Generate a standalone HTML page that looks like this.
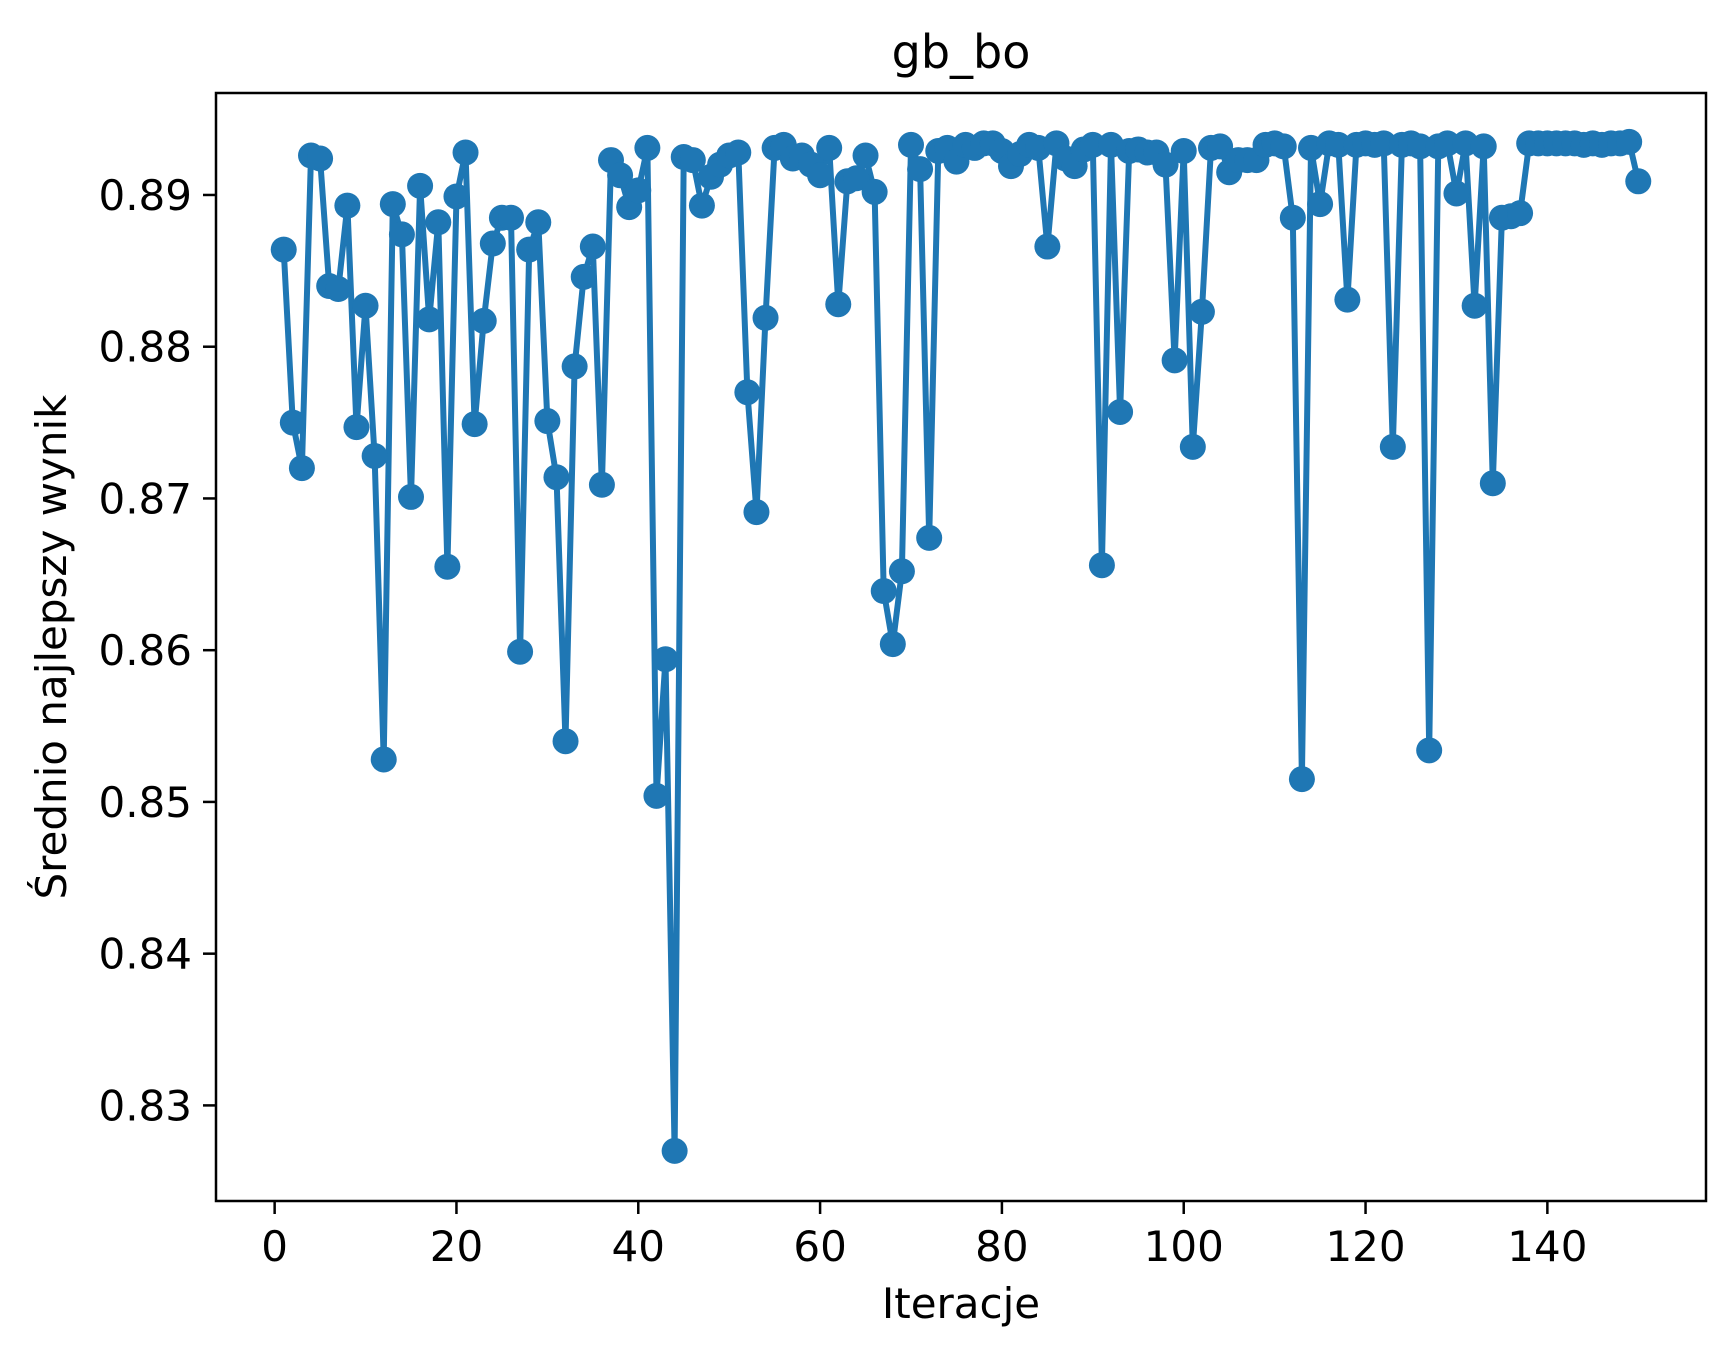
<!DOCTYPE html>
<html><head><meta charset="utf-8"><style>
html,body{margin:0;padding:0;background:#fff;}
svg{display:block;font-family:"DejaVu Sans","Liberation Sans",sans-serif;}
</style></head><body>
<svg id="chart" width="1733" height="1357" viewBox="0 0 1733 1357" xmlns="http://www.w3.org/2000/svg">
<rect width="1733" height="1357" fill="#fff"/>
<text x="961" y="68" font-size="46" text-anchor="middle">gb_bo</text>
<text x="961" y="1318" font-size="42" text-anchor="middle">Iteracje</text>
<text transform="translate(66,647) rotate(-90)" font-size="42" text-anchor="middle">Średnio najlepszy wynik</text>
<g id="grid"></g>
<g id="series"></g>
<rect x="216" y="93" width="1490" height="1108" fill="none" stroke="#000" stroke-width="2.5"/>
</svg>
<script>
const iterations = Array.from({length:150},(_,i)=>i+1);
const scores = [0.8864,0.8750,0.8720,0.8926,0.8924,0.8840,0.8838,0.8893,0.8747,0.8827,
0.8728,0.8528,0.8894,0.8874,0.8701,0.8906,0.8818,0.8882,0.8655,0.8899,
0.8928,0.8749,0.8817,0.8868,0.8885,0.8885,0.8599,0.8864,0.8882,0.8751,
0.8714,0.8540,0.8787,0.8846,0.8866,0.8709,0.8923,0.8913,0.8892,0.8903,
0.8931,0.8504,0.8594,0.8270,0.8925,0.8923,0.8893,0.8912,0.8920,0.8926,
0.8928,0.8770,0.8691,0.8819,0.8931,0.8933,0.8924,0.8926,0.8920,0.8913,
0.8931,0.8828,0.8909,0.8911,0.8926,0.8902,0.8639,0.8604,0.8652,0.8933,
0.8917,0.8674,0.8929,0.8931,0.8922,0.8933,0.8931,0.8934,0.8934,0.8929,
0.8919,0.8927,0.8933,0.8931,0.8866,0.8934,0.8924,0.8919,0.8930,0.8933,
0.8656,0.8933,0.8757,0.8929,0.8930,0.8928,0.8928,0.8920,0.8791,0.8929,
0.8734,0.8823,0.8931,0.8932,0.8915,0.8923,0.8923,0.8923,0.8933,0.8934,
0.8932,0.8885,0.8515,0.8931,0.8894,0.8934,0.8933,0.8831,0.8933,0.8934,
0.8933,0.8934,0.8734,0.8933,0.8934,0.8932,0.8534,0.8932,0.8934,0.8901,
0.8934,0.8827,0.8932,0.8710,0.8885,0.8886,0.8888,0.8934,0.8934,0.8934,
0.8934,0.8934,0.8934,0.8933,0.8934,0.8933,0.8934,0.8934,0.8935,0.8909];
const xTicks = [0,20,40,60,80,100,120,140];
const yTicks = [0.83,0.84,0.85,0.86,0.87,0.88,0.89];
const yTickLabels = ["0.83","0.84","0.85","0.86","0.87","0.88","0.89"];

const L=216,R=1706,T=93,B=1201;
const xMin=-6.45,xMax=157.45,yMin=0.8237,yMax=0.89672;
const xs=v=>L+(v-xMin)/(xMax-xMin)*(R-L);
const ys=v=>B-(v-yMin)/(yMax-yMin)*(B-T);
const NS="http://www.w3.org/2000/svg";
const grid=document.getElementById('grid');
const ser=document.getElementById('series');
function mk(tag,attrs,parent){const e=document.createElementNS(NS,tag);for(const k in attrs)e.setAttribute(k,attrs[k]);parent.appendChild(e);return e;}
xTicks.forEach(t=>{
  const g=mk('g',{},grid);
  
  
  mk('line',{x1:xs(t),x2:xs(t),y1:B,y2:B+13,stroke:'#000','stroke-width':2.5},g);
  const tx=mk('text',{x:xs(t),y:B+60,'font-size':42,'text-anchor':'middle'},g);
  tx.textContent=t;
});
yTicks.forEach((t,i)=>{
  const g=mk('g',{},grid);
  
  
  mk('line',{x1:L-13,x2:L,y1:ys(t),y2:ys(t),stroke:'#000','stroke-width':2.5},g);
  const tx=mk('text',{x:L-24,y:ys(t)+15,'font-size':42,'text-anchor':'end'},g);
  tx.textContent=yTickLabels[i];
});
const pts=iterations.map((it,i)=>xs(it).toFixed(1)+','+ys(scores[i]).toFixed(1)).join(' ');
const pl=mk('polyline',{points:pts,fill:'none',stroke:'#1f77b4','stroke-width':6,'stroke-linejoin':'round'},ser);


iterations.forEach((it,i)=>{
  const c=mk('circle',{cx:xs(it),cy:ys(scores[i]),r:13,fill:'#1f77b4'},ser);
  
  
});
</script>
</body></html>
